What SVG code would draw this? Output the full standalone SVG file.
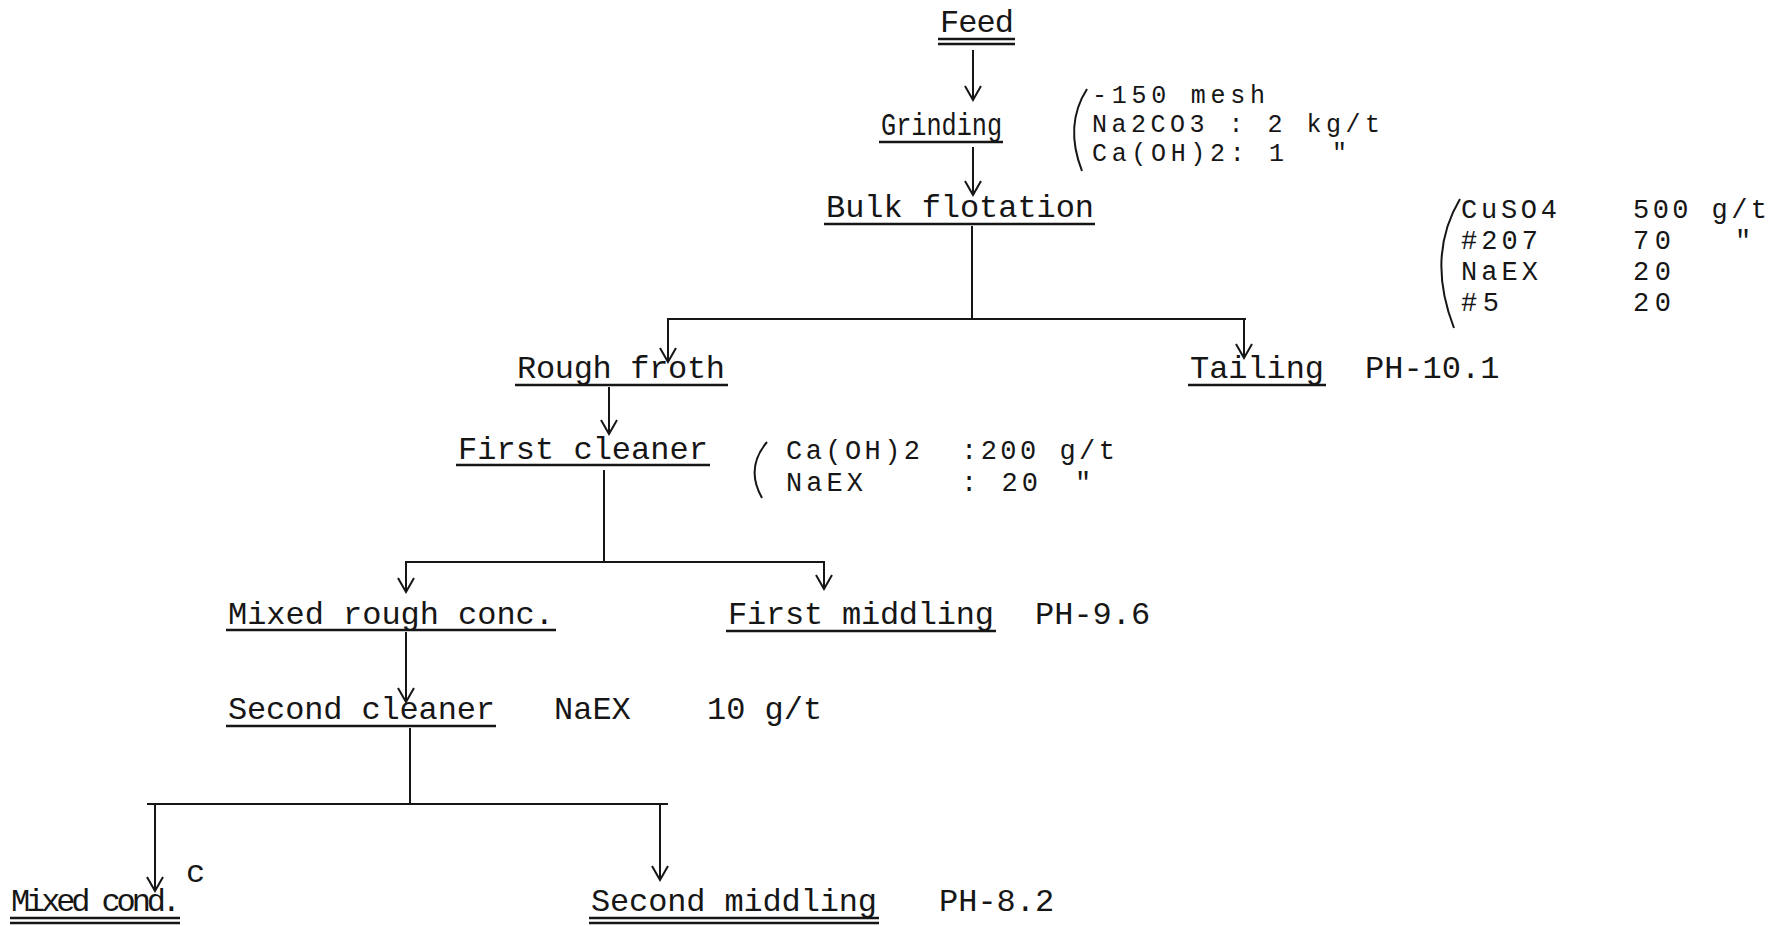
<svg xmlns="http://www.w3.org/2000/svg" width="1769" height="926" viewBox="0 0 1769 926">
<style>
text{font-family:"Liberation Mono","Courier New",monospace;font-size:32px;fill:#161616}
.sm{font-size:25px}
.md{font-size:27px}
.ln{stroke:#161616;stroke-width:2;fill:none}
.ul{stroke:#161616;stroke-width:2.5;fill:none}
.br{stroke:#161616;stroke-width:2;fill:none}
</style>
<defs>
<marker id="ah" markerUnits="userSpaceOnUse" markerWidth="24" markerHeight="24" refX="16" refY="10" orient="auto">
<path d="M2,2 L16,10 L2,18" stroke="#161616" stroke-width="2" fill="none"/>
</marker>
</defs>
<rect width="1769" height="926" fill="#ffffff"/>

<g id="connectors">
<line class="ln" x1="973" y1="50" x2="973" y2="100" marker-end="url(#ah)"/>
<line class="ln" x1="973" y1="147" x2="973" y2="195" marker-end="url(#ah)"/>
<line class="ln" x1="972" y1="226" x2="972" y2="319"/>
<line class="ln" x1="667" y1="319" x2="1246" y2="319"/>
<line class="ln" x1="668" y1="318" x2="668" y2="362" marker-end="url(#ah)"/>
<line class="ln" x1="1244" y1="318" x2="1244" y2="358" marker-end="url(#ah)"/>
<line class="ln" x1="609" y1="387" x2="609" y2="434" marker-end="url(#ah)"/>
<line class="ln" x1="604" y1="470" x2="604" y2="562"/>
<line class="ln" x1="405" y1="562" x2="825" y2="562"/>
<line class="ln" x1="406" y1="561" x2="406" y2="592" marker-end="url(#ah)"/>
<line class="ln" x1="824" y1="561" x2="824" y2="589" marker-end="url(#ah)"/>
<line class="ln" x1="406" y1="632" x2="406" y2="702" marker-end="url(#ah)"/>
<line class="ln" x1="410" y1="728" x2="410" y2="804"/>
<line class="ln" x1="147" y1="804" x2="668" y2="804"/>
<line class="ln" x1="155" y1="803" x2="155" y2="891" marker-end="url(#ah)"/>
<line class="ln" x1="660" y1="803" x2="660" y2="880" marker-end="url(#ah)"/>
</g>

<g id="feed">
<text x="940" y="32" textLength="74">Feed</text>
<line class="ul" x1="938" y1="39" x2="1015" y2="39"/>
<line class="ul" x1="938" y1="44" x2="1015" y2="44"/>
</g>

<g id="grinding">
<text x="881" y="135" textLength="121" lengthAdjust="spacingAndGlyphs">Grinding</text>
<line class="ul" x1="879" y1="142" x2="1003" y2="142"/>
</g>

<g id="grinding-reagents">
<path class="br" d="M1087,89 Q1064,125 1082,171"/>
<text class="sm" x="1092" y="103" textLength="173">-150 mesh</text>
<text class="sm" x="1092" y="132" textLength="288">Na2CO3 : 2 kg/t</text>
<text class="sm" x="1092" y="161" textLength="192">Ca(OH)2: 1</text>
<text class="sm" x="1332" y="161">"</text>
</g>

<g id="bulk-flotation">
<text x="826" y="217" textLength="268">Bulk flotation</text>
<line class="ul" x1="824" y1="224" x2="1095" y2="224"/>
</g>

<g id="bulk-reagents">
<path class="br" d="M1460,199 Q1426,256 1454,328"/>
<text class="md" x="1461" y="218" textLength="96">CuSO4</text>
<text class="md" x="1633" y="218" textLength="134">500 g/t</text>
<text class="md" x="1461" y="249" textLength="77">#207</text>
<text class="md" x="1633" y="249" textLength="38">70</text>
<text class="md" x="1735" y="249">"</text>
<text class="md" x="1461" y="280" textLength="77">NaEX</text>
<text class="md" x="1633" y="280" textLength="38">20</text>
<text class="md" x="1461" y="311" textLength="38">#5</text>
<text class="md" x="1633" y="311" textLength="38">20</text>
</g>

<g id="rough-froth">
<text x="517" y="378" textLength="208">Rough froth</text>
<line class="ul" x1="515" y1="385" x2="728" y2="385"/>
</g>

<g id="tailing">
<text x="1190" y="378" textLength="134">Tailing</text>
<line class="ul" x1="1188" y1="385" x2="1326" y2="385"/>
<text x="1365" y="378">PH-10.1</text>
</g>

<g id="first-cleaner">
<text x="458" y="459" textLength="250">First cleaner</text>
<line class="ul" x1="456" y1="465" x2="710" y2="465"/>
</g>

<g id="first-cleaner-reagents">
<path class="br" d="M767,442 Q745,468 762,498"/>
<text class="md" x="786" y="459" textLength="134">Ca(OH)2</text>
<text class="md" x="961" y="459" textLength="154">:200 g/t</text>
<text class="md" x="786" y="491" textLength="77">NaEX</text>
<text class="md" x="961" y="491" textLength="77">: 20</text>
<text class="md" x="1075" y="491">"</text>
</g>

<g id="mixed-rough-conc">
<text x="228" y="624" textLength="326">Mixed rough conc.</text>
<line class="ul" x1="226" y1="630" x2="556" y2="630"/>
</g>

<g id="first-middling">
<text x="728" y="624" textLength="266">First middling</text>
<line class="ul" x1="726" y1="631" x2="996" y2="631"/>
<text x="1035" y="624">PH-9.6</text>
</g>

<g id="second-cleaner">
<text x="228" y="719" textLength="267">Second cleaner</text>
<line class="ul" x1="226" y1="726" x2="496" y2="726"/>
<text x="554" y="719">NaEX</text>
<text x="707" y="719">10 g/t</text>
</g>

<g id="mixed-cond">
<text x="11" y="911" textLength="170">Mixed cond.</text>
<text x="186" y="882" font-size="24">c</text>
<line class="ul" x1="10" y1="918" x2="180" y2="918"/>
<line class="ul" x1="10" y1="923" x2="180" y2="923"/>
</g>

<g id="second-middling">
<text x="591" y="911" textLength="286">Second middling</text>
<line class="ul" x1="589" y1="918" x2="879" y2="918"/>
<line class="ul" x1="589" y1="923" x2="879" y2="923"/>
<text x="939" y="911">PH-8.2</text>
</g>
</svg>
